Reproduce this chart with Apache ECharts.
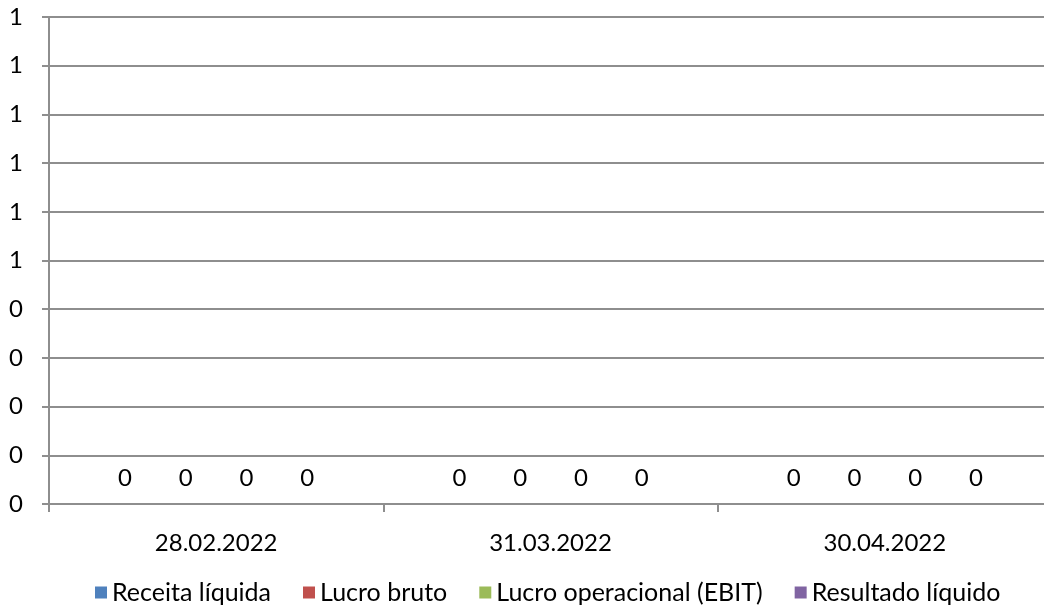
<!DOCTYPE html>
<html>
<head>
<meta charset="utf-8">
<script src="https://cdn.jsdelivr.net/npm/echarts@6/dist/echarts.min.js"></script>
<style>html,body{margin:0;padding:0;background:#fff;overflow:hidden}#wrap{width:1044px;height:607px;overflow:hidden;position:relative}#c{width:1052px;height:607px}</style>
</head>
<body>
<div id="wrap"><div id="c"></div></div>
<script>
const categories = ['28.02.2022', '31.03.2022', '30.04.2022'];
const seriesNames = ['Receita líquida', 'Lucro bruto', 'Lucro operacional (EBIT)', 'Resultado líquido'];
const receitaLiquida = [0, 0, 0];
const lucroBruto = [0, 0, 0];
const lucroOperacional = [0, 0, 0];
const resultadoLiquido = [0, 0, 0];
const yTickLabels = ['0', '0', '0', '0', '0', '1', '1', '1', '1', '1', '1'];

const colors = ['#4F81BD', '#C0504D', '#9BBB59', '#8064A2'];
const FONT = 'Lato';
const FS = 24;
const gridColor = '#8e8e8e';
const seriesData = [receitaLiquida, lucroBruto, lucroOperacional, resultadoLiquido];

const chart = echarts.init(document.getElementById('c'), null, {renderer: 'canvas'});
chart.setOption({
  animation: false,
  color: colors,
  textStyle: {fontFamily: FONT},
  grid: {left: 49, right: 0, top: 17, bottom: 103, containLabel: false},
  legend: {
    top: 575,
    left: 90,
    itemWidth: 12,
    itemHeight: 12,
    itemGap: 32,
    icon: 'rect',
    textStyle: {fontFamily: FONT, fontSize: 25, color: '#000'},
    data: seriesNames
  },
  xAxis: {
    type: 'category',
    data: categories,
    axisLine: {show: true, lineStyle: {color: gridColor, width: 2}},
    axisTick: {show: true, length: 8, lineStyle: {color: gridColor, width: 2}},
    axisLabel: {fontFamily: FONT, fontSize: FS, color: '#000', margin: 27}
  },
  yAxis: {
    type: 'value',
    min: 0,
    max: 1,
    interval: 0.1,
    axisLine: {show: true, lineStyle: {color: gridColor, width: 2}},
    axisTick: {show: true, length: 7, lineStyle: {color: gridColor, width: 2}},
    splitLine: {show: true, lineStyle: {color: gridColor, width: 2}},
    axisLabel: {
      fontFamily: FONT, fontSize: FS, color: '#000', margin: 26,
      formatter: function (v, i) { return yTickLabels[i]; }
    }
  },
  series: seriesNames.map(function (name, k) {
    return {
      name: name,
      type: 'bar',
      data: seriesData[k],
      barGap: '0%',
      barCategoryGap: '27.3%',
      label: {show: true, position: 'top', distance: 14, fontFamily: FONT, fontSize: FS, color: '#000'}
    };
  })
});
</script>
</body>
</html>
